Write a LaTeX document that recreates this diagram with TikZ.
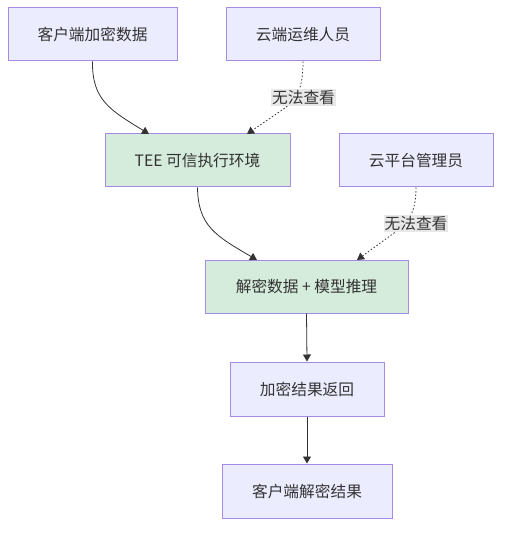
\documentclass[tikz,border=0pt]{standalone}
\usepackage{fontspec}
\setmainfont{Noto Sans CJK SC}
\usetikzlibrary{arrows.meta}
\definecolor{nodefill}{HTML}{ECECFF}
\definecolor{nodestroke}{HTML}{A58BE3}
\definecolor{greenfill}{HTML}{D5EBDB}
\definecolor{txt}{HTML}{333333}
\definecolor{edgecol}{HTML}{333333}
\definecolor{lblbg}{HTML}{E8E8E8}
\begin{document}
\begin{tikzpicture}[x=1pt,y=-1pt,
  box/.style={draw=nodestroke, line width=1pt, fill=nodefill, text=txt, font=\fontsize{15.7}{18}\selectfont, inner sep=0pt, anchor=center},
  greenbox/.style={box, fill=greenfill},
  edge/.style={draw=edgecol, line width=0.8pt, -{Triangle[length=7pt,width=8pt]}},
  dotedge/.style={edge, dash pattern=on 1.5pt off 2pt},
  lbl/.style={fill=lblbg, text=txt, font=\fontsize{15.7}{18}\selectfont, inner sep=1pt}
]
\useasboundingbox (0,0) rectangle (509,534);
\node[box, minimum width=169pt, minimum height=53pt] (A) at (92.5,34.5) {客户端加密数据};
\node[box, minimum width=154pt, minimum height=53pt] (B) at (303,34.5) {云端运维人员};
\node[greenbox, minimum width=185pt, minimum height=53pt] (C) at (197.5,160.5) {TEE 可信执行环境};
\node[box, minimum width=154pt, minimum height=53pt] (D) at (416,160.5) {云平台管理员};
\node[greenbox, minimum width=203pt, minimum height=53pt] (E) at (306.5,286.5) {解密数据 + 模型推理};
\node[box, minimum width=154pt, minimum height=54pt] (F) at (307,389) {加密结果返回};
\node[box, minimum width=170pt, minimum height=54pt] (G) at (307,491) {客户端解密结果};

\coordinate (c1) at (149,134);
\coordinate (c2) at (247,134);
\coordinate (e1) at (257,260);
\coordinate (e2) at (357,260);
\coordinate (l1) at (285,108);
\coordinate (l2) at (394,233);

\draw[edge] (A.south) .. controls (92,100) and (110,110) .. (c1);
\draw[dotedge] (B.south) .. controls (303,92) and (295,100) .. (l1) -- (c2);
\draw[edge] (C.south) .. controls (198,226) and (216,236) .. (e1);
\draw[dotedge] (D.south) .. controls (416,218) and (404,226) .. (l2) -- (e2);
\draw[edge] (E.south) -- (F.north);
\draw[edge] (F.south) -- (G.north);

\node[lbl] (L1) at (303.5,97.5) {无法查看};
\node[lbl] (L2) at (416,223.5) {无法查看};
\end{tikzpicture}
\end{document}
